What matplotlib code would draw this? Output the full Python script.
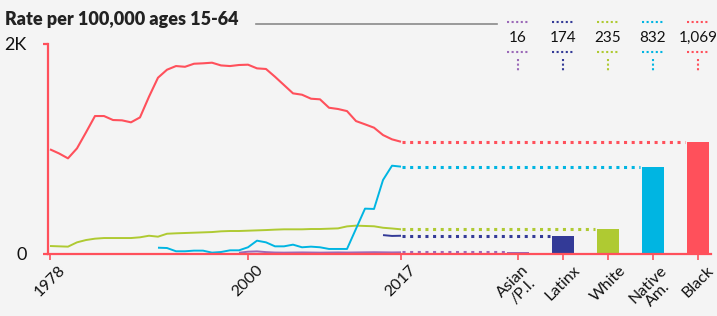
import numpy as np
import matplotlib
matplotlib.use("Agg")
import matplotlib.pyplot as plt
from matplotlib.lines import Line2D
from matplotlib.transforms import blended_transform_factory

plt.rcParams['font.family'] = ['Lato', 'DejaVu Sans']

# ---------------- data ----------------
years = np.arange(1978, 2018)
nan = np.nan

black = [997, 958, 911, 1006, 1158, 1314, 1314, 1276, 1273, 1254,
         1301, 1498, 1679, 1755, 1790, 1783, 1812, 1816, 1822, 1796,
         1790, 1800, 1803, 1768, 1762, 1688, 1609, 1530, 1517, 1479,
         1473, 1393, 1381, 1361, 1266, 1235, 1203, 1133, 1092, 1069]
white = [76, 73, 70, 111, 133, 146, 152, 152, 152, 152,
         159, 174, 165, 193, 197, 200, 203, 206, 209, 216,
         219, 219, 222, 225, 228, 232, 235, 235, 235, 238,
         238, 241, 244, 263, 270, 267, 264, 250, 243, 235]
native = [nan] * 12 + [60, 57, 26, 26, 32, 32, 13, 19, 35, 35,
                       64, 127, 111, 73, 73, 89, 64, 70, 64, 48,
                       48, 48, 240, 432, 429, 705, 841, 832]
latinx = [nan] * 37 + [180, 172, 174]
asian = [nan] * 21 + [12, 22, 25, 18, 14, 13, 14, 15, 14, 13,
                      14, 15, 14, 15, 16, 17, 16, 15, 16]

categories = ["Asian\n/P.I.", "Latinx", "White", "Native\nAm.", "Black"]
latest = [16, 174, 235, 832, 1069]
series = [asian, latinx, white, native, black]
colors = ["#9b69b8", "#333a97", "#afca32", "#00b5e2", "#ff505b"]

year_ticks = [1978, 2000, 2017]
y_ticks = [0, 2000]
y_labels = ["0", "2K"]
title = "Rate per 100,000 ages 15-64"

# ---------------- layout ----------------
bg = "#f4f4f4"
red = "#ff505b"
W, H = 717, 316
fig = plt.figure(figsize=(W / 100, H / 100), dpi=100, facecolor=bg)
ax = fig.add_axes([48 / W, (H - 254) / H, (711 - 48) / W, 210 / H])
ax.set_facecolor(bg)

last_year = years[-1]
bar_pos = last_year + 13 + 5 * np.arange(len(categories))
bar_w = 2.5

ax.set_xlim(1977.78, 2051.44)
ax.set_ylim(0, 2000)

# lines
for s, c in zip(series, colors):
    ax.plot(years, s, color=c, lw=1.4 if c != red else 1.5, zorder=3,
            solid_capstyle='butt')

# bars
ax.bar(bar_pos, latest, width=bar_w, color=colors, zorder=3)

# dotted connectors
for v, c, p in zip(latest, colors, bar_pos):
    ax.plot([last_year + 0.15, p - bar_w / 2 - 0.2], [v, v], color=c, lw=2.2,
            dashes=(1, 1.5), zorder=2)

# legend on top
trans = blended_transform_factory(ax.transData, ax.transAxes)
for v, c, p in zip(latest, colors, bar_pos):
    ax.text(p, 1.029, f"{v:,}", ha='center', va='center', transform=trans,
            fontsize=11, color="#111111", clip_on=False)
    for yy in (1.105, 0.962):
        ax.plot([p - 1.2, p + 1.2], [yy, yy], transform=trans, clip_on=False,
                color=c, lw=1.5, dashes=(1, 1.2))
    ax.plot([p, p], [0.929, 0.868], transform=trans, clip_on=False,
            color=c, lw=1.5, dashes=(1, 1.2))

# spines & ticks
for side in ("top", "right"):
    ax.spines[side].set_visible(False)
for side in ("left", "bottom"):
    ax.spines[side].set_color(red)
    ax.spines[side].set_linewidth(1.6)
    ax.spines[side].set_zorder(4)

ax.set_yticks(y_ticks, y_labels)
ax.tick_params(axis='y', length=3.8, width=1.6, color=red, pad=11.5,
               labelsize=13, labelcolor="#111111")
ax.set_xticks(list(year_ticks) + list(bar_pos),
              [str(y) for y in year_ticks] + categories)
ax.tick_params(axis='x', length=4.5, width=1.2, color=red, pad=2,
               labelsize=11.5, labelcolor="#111111")
for lab in ax.get_xticklabels():
    lab.set_rotation(45)
    lab.set_ha('center')
    lab.set_linespacing(0.95)

# title and rule
fig.text(5 / W, 1 - 25 / H, title, fontsize=13, fontweight='heavy',
         color="#222222", va='baseline', ha='left')
fig.add_artist(Line2D([256 / W, 497 / W], [1 - 23.5 / H] * 2,
                      transform=fig.transFigure, color="#8a8a8a", lw=1.2))

fig.savefig("out.png", dpi=100, facecolor=bg)
